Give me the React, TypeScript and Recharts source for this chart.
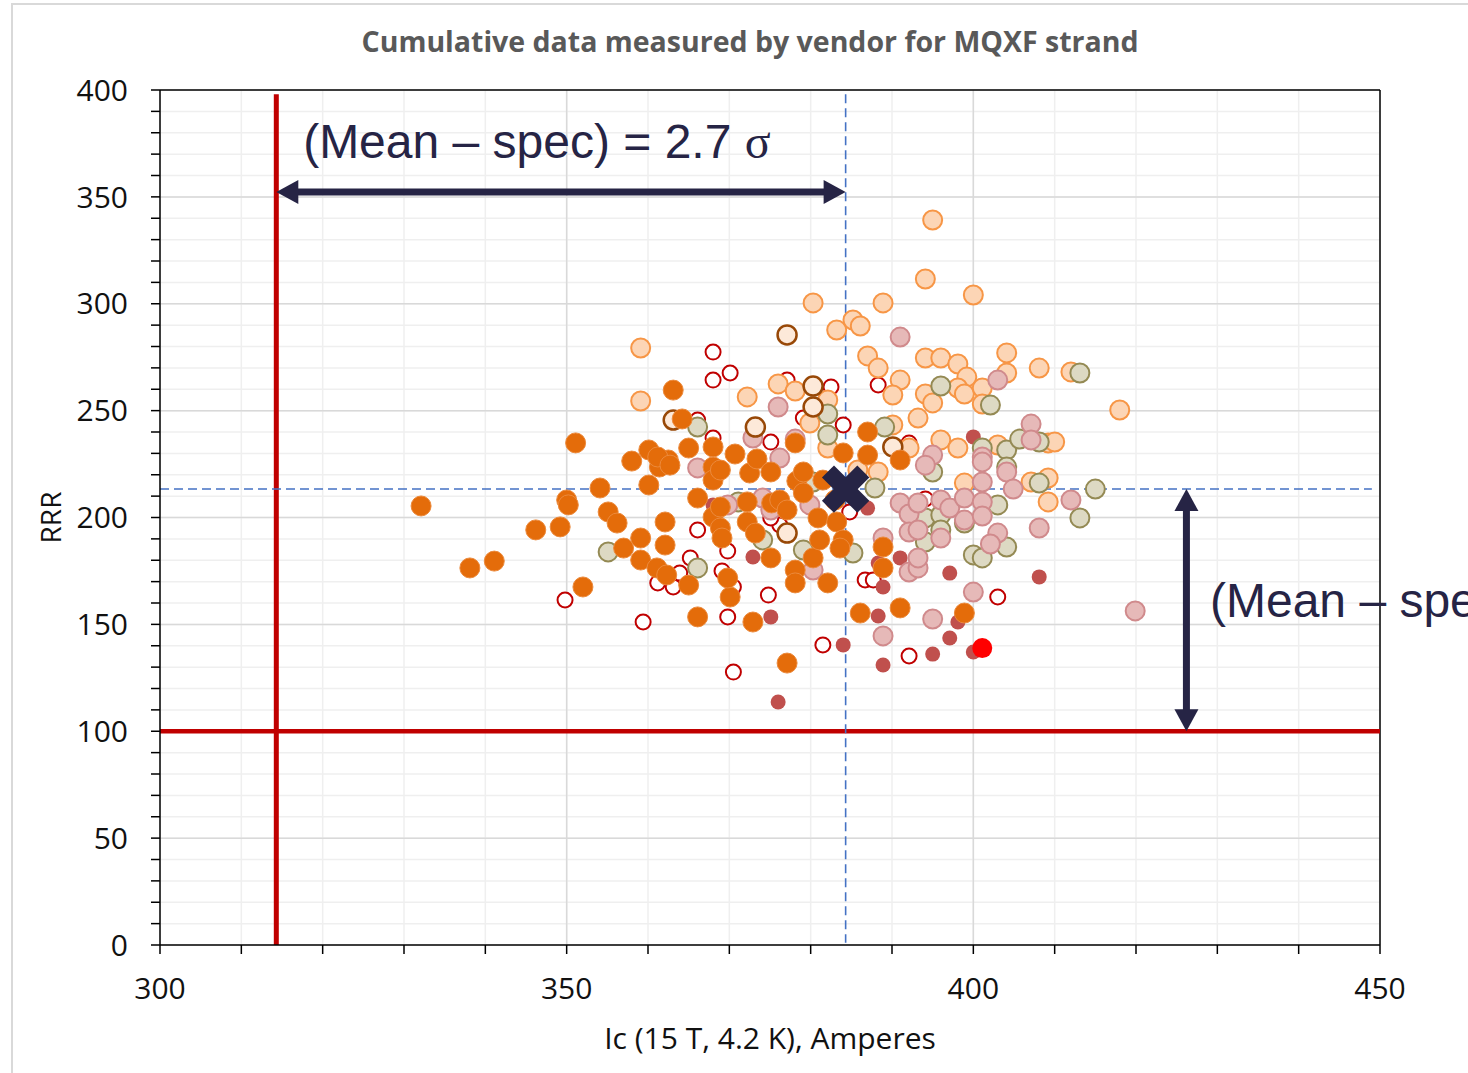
import React from 'react';
import {
  ScatterChart,
  Scatter,
  XAxis,
  YAxis,
  CartesianGrid,
  ReferenceLine,
  ReferenceDot,
  Label
} from 'recharts';

type Pt = { ic: number; rrr: number };

const xTicks = [300, 310, 320, 330, 340, 350, 360, 370, 380, 390, 400, 410, 420, 430, 440, 450];
const yTicks = [
  0, 10, 20, 30, 40, 50, 60, 70, 80, 90, 100, 110, 120, 130, 140, 150, 160, 170, 180, 190, 200,
  210, 220, 230, 240, 250, 260, 270, 280, 290, 300, 310, 320, 330, 340, 350, 360, 370, 380, 390, 400
];
const xMajor = [350, 400];
const yMajor = [50, 100, 150, 200, 250, 300, 350];

const specIc = 314.3;
const specRrr = 100;
const meanIc = 384.3;
const meanRrr = 213.3;

const filledOrange: Pt[] = [
  { ic: 332.1, rrr: 205.4 }, { ic: 338.1, rrr: 176.4 }, { ic: 341.1, rrr: 179.6 }, { ic: 346.2, rrr: 194.2 },
  { ic: 349.2, rrr: 195.6 }, { ic: 350.0, rrr: 208.2 }, { ic: 350.2, rrr: 205.9 }, { ic: 351.1, rrr: 234.9 },
  { ic: 352.0, rrr: 167.5 }, { ic: 354.1, rrr: 213.8 }, { ic: 355.1, rrr: 202.6 }, { ic: 356.2, rrr: 197.4 },
  { ic: 357.0, rrr: 185.7 }, { ic: 358.0, rrr: 226.4 }, { ic: 359.1, rrr: 190.4 }, { ic: 359.1, rrr: 180.1 },
  { ic: 360.1, rrr: 215.2 }, { ic: 360.1, rrr: 231.6 }, { ic: 361.1, rrr: 176.4 }, { ic: 361.4, rrr: 223.6 },
  { ic: 362.1, rrr: 197.9 }, { ic: 362.1, rrr: 187.1 }, { ic: 362.3, rrr: 173.1 }, { ic: 363.1, rrr: 259.6 },
  { ic: 362.5, rrr: 226.9 }, { ic: 361.2, rrr: 228.3 }, { ic: 362.7, rrr: 224.5 }, { ic: 364.2, rrr: 246.1 },
  { ic: 365.0, rrr: 168.4 }, { ic: 365.0, rrr: 232.5 }, { ic: 366.1, rrr: 153.5 }, { ic: 366.1, rrr: 209.1 },
  { ic: 368.0, rrr: 233.0 }, { ic: 368.0, rrr: 223.6 }, { ic: 368.0, rrr: 200.2 }, { ic: 368.0, rrr: 217.5 },
  { ic: 368.9, rrr: 222.2 }, { ic: 368.9, rrr: 195.1 }, { ic: 369.1, rrr: 190.4 }, { ic: 368.9, rrr: 204.9 },
  { ic: 370.1, rrr: 162.8 }, { ic: 369.8, rrr: 171.7 }, { ic: 370.7, rrr: 229.7 }, { ic: 372.2, rrr: 207.3 },
  { ic: 372.2, rrr: 197.9 }, { ic: 372.5, rrr: 220.8 }, { ic: 373.2, rrr: 192.7 }, { ic: 372.9, rrr: 151.1 },
  { ic: 373.4, rrr: 227.4 }, { ic: 375.1, rrr: 221.3 }, { ic: 375.1, rrr: 181.1 }, { ic: 375.2, rrr: 206.8 },
  { ic: 376.2, rrr: 208.2 }, { ic: 377.1, rrr: 203.5 }, { ic: 377.1, rrr: 131.9 }, { ic: 378.1, rrr: 175.4 },
  { ic: 378.1, rrr: 169.4 }, { ic: 378.1, rrr: 234.9 }, { ic: 378.3, rrr: 217.1 }, { ic: 379.1, rrr: 211.5 },
  { ic: 379.1, rrr: 221.3 }, { ic: 380.3, rrr: 181.1 }, { ic: 380.9, rrr: 199.8 }, { ic: 381.1, rrr: 189.5 },
  { ic: 381.5, rrr: 217.5 }, { ic: 382.1, rrr: 169.4 }, { ic: 383.2, rrr: 197.9 }, { ic: 384.0, rrr: 189.5 },
  { ic: 383.6, rrr: 185.7 }, { ic: 383.0, rrr: 208.2 }, { ic: 384.0, rrr: 230.2 }, { ic: 386.1, rrr: 155.3 },
  { ic: 387.0, rrr: 240.0 }, { ic: 387.0, rrr: 229.2 }, { ic: 388.9, rrr: 186.2 }, { ic: 388.9, rrr: 176.4 },
  { ic: 391.0, rrr: 157.7 }, { ic: 391.0, rrr: 226.9 }, { ic: 398.9, rrr: 155.3 }
];

const peach: Pt[] = [
  { ic: 359.1, rrr: 279.3 }, { ic: 359.1, rrr: 254.5 }, { ic: 372.2, rrr: 256.4 }, { ic: 376.0, rrr: 262.5 },
  { ic: 378.1, rrr: 259.2 }, { ic: 380.3, rrr: 300.4 }, { ic: 382.1, rrr: 255.0 }, { ic: 379.9, rrr: 244.2 },
  { ic: 382.1, rrr: 232.5 }, { ic: 383.2, rrr: 287.7 }, { ic: 385.2, rrr: 292.4 }, { ic: 386.1, rrr: 289.6 },
  { ic: 387.0, rrr: 275.6 }, { ic: 388.3, rrr: 269.9 }, { ic: 395.0, rrr: 339.2 }, { ic: 394.1, rrr: 311.6 },
  { ic: 400.0, rrr: 304.1 }, { ic: 388.9, rrr: 300.4 }, { ic: 391.0, rrr: 264.3 }, { ic: 390.1, rrr: 257.3 },
  { ic: 394.1, rrr: 274.6 }, { ic: 396.0, rrr: 274.6 }, { ic: 398.1, rrr: 271.8 }, { ic: 399.2, rrr: 265.7 },
  { ic: 394.1, rrr: 257.8 }, { ic: 395.0, rrr: 253.6 }, { ic: 398.1, rrr: 260.6 }, { ic: 398.9, rrr: 257.8 },
  { ic: 401.1, rrr: 260.6 }, { ic: 401.1, rrr: 253.1 }, { ic: 404.1, rrr: 277.0 }, { ic: 404.1, rrr: 267.6 },
  { ic: 408.1, rrr: 269.9 }, { ic: 412.0, rrr: 268.1 }, { ic: 418.0, rrr: 250.3 }, { ic: 393.2, rrr: 246.5 },
  { ic: 390.1, rrr: 243.3 }, { ic: 396.0, rrr: 236.3 }, { ic: 398.1, rrr: 232.5 }, { ic: 403.0, rrr: 233.9 },
  { ic: 409.2, rrr: 234.9 }, { ic: 410.0, rrr: 235.3 }, { ic: 392.1, rrr: 232.5 }, { ic: 388.3, rrr: 221.3 },
  { ic: 409.2, rrr: 207.3 }, { ic: 407.1, rrr: 216.6 }, { ic: 409.2, rrr: 218.5 }, { ic: 398.9, rrr: 216.1 },
  { ic: 385.8, rrr: 222.2 }
];

const pink: Pt[] = [
  { ic: 391.0, rrr: 284.4 }, { ic: 403.0, rrr: 264.3 }, { ic: 407.1, rrr: 243.7 }, { ic: 407.1, rrr: 236.3 },
  { ic: 401.1, rrr: 228.3 }, { ic: 395.0, rrr: 229.2 }, { ic: 394.1, rrr: 224.5 }, { ic: 401.1, rrr: 226.0 },
  { ic: 401.1, rrr: 216.6 }, { ic: 404.1, rrr: 221.3 }, { ic: 404.9, rrr: 213.3 }, { ic: 391.0, rrr: 206.8 },
  { ic: 392.1, rrr: 201.6 }, { ic: 393.2, rrr: 206.8 }, { ic: 396.0, rrr: 208.2 }, { ic: 397.1, rrr: 204.4 },
  { ic: 398.9, rrr: 209.1 }, { ic: 398.9, rrr: 198.8 }, { ic: 401.1, rrr: 207.3 }, { ic: 401.1, rrr: 200.7 },
  { ic: 392.1, rrr: 193.2 }, { ic: 393.2, rrr: 194.2 }, { ic: 396.0, rrr: 190.4 }, { ic: 403.0, rrr: 192.7 },
  { ic: 402.1, rrr: 187.6 }, { ic: 408.1, rrr: 195.1 }, { ic: 412.0, rrr: 208.2 }, { ic: 392.1, rrr: 174.5 },
  { ic: 393.2, rrr: 176.4 }, { ic: 393.2, rrr: 181.1 }, { ic: 400.0, rrr: 165.1 }, { ic: 395.0, rrr: 152.5 },
  { ic: 388.9, rrr: 144.6 }, { ic: 419.9, rrr: 156.3 }, { ic: 388.9, rrr: 190.4 }, { ic: 376.0, rrr: 251.7 },
  { ic: 372.9, rrr: 237.2 }, { ic: 378.1, rrr: 236.7 }, { ic: 366.1, rrr: 223.2 }, { ic: 376.2, rrr: 227.8 },
  { ic: 374.1, rrr: 209.1 }, { ic: 375.1, rrr: 203.5 }, { ic: 379.9, rrr: 205.9 }, { ic: 380.3, rrr: 175.4 },
  { ic: 369.8, rrr: 205.9 }
];

const olive: Pt[] = [
  { ic: 366.1, rrr: 242.3 }, { ic: 382.1, rrr: 248.4 }, { ic: 382.1, rrr: 238.6 }, { ic: 355.1, rrr: 183.9 },
  { ic: 366.1, rrr: 176.4 }, { ic: 371.1, rrr: 207.3 }, { ic: 374.1, rrr: 189.5 }, { ic: 379.1, rrr: 184.8 },
  { ic: 385.2, rrr: 183.4 }, { ic: 387.9, rrr: 213.8 }, { ic: 380.3, rrr: 216.6 }, { ic: 396.0, rrr: 261.5 },
  { ic: 402.1, rrr: 252.6 }, { ic: 413.1, rrr: 267.6 }, { ic: 389.1, rrr: 242.3 }, { ic: 401.1, rrr: 232.5 },
  { ic: 404.1, rrr: 231.6 }, { ic: 405.7, rrr: 236.7 }, { ic: 408.1, rrr: 235.3 }, { ic: 404.1, rrr: 223.6 },
  { ic: 408.1, rrr: 216.1 }, { ic: 415.0, rrr: 213.3 }, { ic: 413.1, rrr: 199.8 }, { ic: 395.0, rrr: 221.3 },
  { ic: 403.0, rrr: 205.9 }, { ic: 394.1, rrr: 199.8 }, { ic: 396.0, rrr: 201.2 }, { ic: 398.9, rrr: 197.4 },
  { ic: 394.1, rrr: 188.5 }, { ic: 396.0, rrr: 194.2 }, { ic: 400.0, rrr: 182.5 }, { ic: 401.1, rrr: 181.1 },
  { ic: 404.1, rrr: 186.2 }
];

const hollowRed: Pt[] = [
  { ic: 368.0, rrr: 277.4 }, { ic: 368.0, rrr: 264.3 }, { ic: 370.1, rrr: 267.6 }, { ic: 382.5, rrr: 261.1 },
  { ic: 384.0, rrr: 243.3 }, { ic: 388.3, rrr: 262.0 }, { ic: 379.1, rrr: 246.5 }, { ic: 375.1, rrr: 235.3 },
  { ic: 368.0, rrr: 237.2 }, { ic: 366.1, rrr: 245.6 }, { ic: 377.1, rrr: 264.3 }, { ic: 349.8, rrr: 161.4 },
  { ic: 359.4, rrr: 151.1 }, { ic: 366.1, rrr: 194.2 }, { ic: 365.2, rrr: 181.1 }, { ic: 369.1, rrr: 175.0 },
  { ic: 369.8, rrr: 184.3 }, { ic: 370.5, rrr: 167.5 }, { ic: 369.8, rrr: 153.5 }, { ic: 370.5, rrr: 127.7 },
  { ic: 361.2, rrr: 169.4 }, { ic: 363.1, rrr: 167.5 }, { ic: 363.9, rrr: 174.0 }, { ic: 374.8, rrr: 163.7 },
  { ic: 381.5, rrr: 140.4 }, { ic: 384.8, rrr: 202.6 }, { ic: 386.7, rrr: 170.8 }, { ic: 387.7, rrr: 170.8 },
  { ic: 376.2, rrr: 196.5 }, { ic: 375.1, rrr: 199.8 }, { ic: 403.0, rrr: 162.8 }, { ic: 392.1, rrr: 135.2 },
  { ic: 394.1, rrr: 208.7 }, { ic: 392.1, rrr: 234.9 }
];

const darkRed: Pt[] = [
  { ic: 368.0, rrr: 205.9 }, { ic: 372.9, rrr: 181.5 }, { ic: 375.1, rrr: 153.5 }, { ic: 384.0, rrr: 140.4 },
  { ic: 376.0, rrr: 113.7 }, { ic: 387.0, rrr: 204.4 }, { ic: 391.0, rrr: 181.1 }, { ic: 388.3, rrr: 178.7 },
  { ic: 388.9, rrr: 167.5 }, { ic: 397.1, rrr: 174.0 }, { ic: 408.1, rrr: 172.2 }, { ic: 388.3, rrr: 153.9 },
  { ic: 398.1, rrr: 151.1 }, { ic: 397.1, rrr: 143.6 }, { ic: 395.0, rrr: 136.1 }, { ic: 388.9, rrr: 131.0 },
  { ic: 400.0, rrr: 137.1 }, { ic: 400.0, rrr: 237.7 }
];

const cream: Pt[] = [
  { ic: 377.1, rrr: 285.4 }, { ic: 380.3, rrr: 261.5 }, { ic: 380.3, rrr: 251.7 }, { ic: 363.1, rrr: 245.6 },
  { ic: 373.2, rrr: 242.3 }, { ic: 377.1, rrr: 192.7 }, { ic: 390.1, rrr: 233.0 }
];

const brightRed: Pt[] = [{ ic: 401.1, rrr: 138.9 }];
const meanPoint: Pt[] = [{ ic: meanIc, rrr: meanRrr }];

const NAVY = '#262445';
const FONT = '"Open Sans", "Noto Sans", sans-serif';
const ARIAL = '"Liberation Sans", Arial, sans-serif';

const dot = (r: number, fill: string, stroke?: string, sw = 0) => (p: any) => (
  <circle cx={p.cx} cy={p.cy} r={r} fill={fill} stroke={stroke || 'none'} strokeWidth={sw} />
);

const crossShape = (p: any) => (
  <g transform={`translate(${p.cx},${p.cy}) rotate(45)`}>
    <rect x={-25} y={-8.5} width={50} height={17} fill={NAVY} />
    <rect x={-8.5} y={-25} width={17} height={50} fill={NAVY} />
  </g>
);

const arrowShape = (props: any) => {
  const { x1, y1, x2, y2 } = props;
  const dx = x2 - x1;
  const dy = y2 - y1;
  const len = Math.hypot(dx, dy) || 1;
  const ux = dx / len;
  const uy = dy / len;
  const nx = -uy;
  const ny = ux;
  const head = 22;
  const half = 12;
  const tri = (tx: number, ty: number, dir: number) => {
    const bx = tx - ux * head * dir;
    const by = ty - uy * head * dir;
    return `${tx},${ty} ${bx + nx * half},${by + ny * half} ${bx - nx * half},${by - ny * half}`;
  };
  return (
    <g>
      <line
        x1={x1 + ux * head * 0.8}
        y1={y1 + uy * head * 0.8}
        x2={x2 - ux * head * 0.8}
        y2={y2 - uy * head * 0.8}
        stroke={NAVY}
        strokeWidth={7}
      />
      <polygon points={tri(x1, y1, -1)} fill={NAVY} />
      <polygon points={tri(x2, y2, 1)} fill={NAVY} />
    </g>
  );
};

const noteText = (text: string, sigma?: string) => (p: any) => (
  <text x={p.cx} y={p.cy} fill={NAVY} fontSize={48} fontFamily={ARIAL}>
    {text}
    {sigma ? <tspan fontFamily='"Liberation Serif", "DejaVu Serif", serif'>{sigma}</tspan> : null}
  </text>
);

const tickFmt = (v: number) => (v % 50 === 0 ? String(v) : '');

const App: React.FC = () => {
  return (
    <div
      style={{
        position: 'absolute',
        left: 0,
        top: 0,
        width: 1468,
        height: 1073,
        overflow: 'hidden',
        background: '#fff'
      }}
    >
      <div
        style={{
          position: 'absolute',
          left: 11,
          top: 3,
          width: 1600,
          height: 1200,
          borderLeft: '2px solid #d9d9d9',
          borderTop: '2px solid #d9d9d9'
        }}
      />
      <div
        style={{
          position: 'absolute',
          left: 250,
          top: 22,
          width: 1000,
          textAlign: 'center',
          fontFamily: FONT,
          fontWeight: 700,
          fontSize: 28.5,
          lineHeight: '38px',
          color: '#595959'
        }}
      >
        Cumulative data measured by vendor for MQXF strand
      </div>
      <div style={{ position: 'absolute', left: 0, top: 0 }}>
        <ScatterChart
          width={1600}
          height={1073}
          margin={{ top: 90, right: 220, left: 20, bottom: 18 }}
        >
          <CartesianGrid stroke="#efefef" strokeWidth={1.5} />
          <CartesianGrid
            stroke="#d9d9d9"
            strokeWidth={1.5}
            verticalValues={xMajor}
            horizontalValues={yMajor}
          />
          <XAxis
            type="number"
            dataKey="ic"
            domain={[300, 450]}
            ticks={xTicks}
            tickFormatter={tickFmt}
            interval={0}
            allowDataOverflow
            height={110}
            tickSize={9}
            tickMargin={24}
            stroke="#000"
            strokeWidth={1.5}
            tick={{ fill: '#111', fontSize: 30, fontFamily: FONT }}
          >
            <Label
              content={({ viewBox }: any) => (
                <text
                  x={viewBox.x + viewBox.width / 2}
                  y={viewBox.y + 104}
                  textAnchor="middle"
                  fill="#111"
                  fontSize={30}
                  fontFamily={FONT}
                >
                  Ic (15 T, 4.2 K), Amperes
                </text>
              )}
            />
          </XAxis>
          <YAxis
            type="number"
            dataKey="rrr"
            domain={[0, 400]}
            ticks={yTicks}
            tickFormatter={tickFmt}
            interval={0}
            allowDataOverflow
            width={140}
            tickSize={9}
            tickMargin={23}
            stroke="#000"
            strokeWidth={1.5}
            tick={{ fill: '#111', fontSize: 30, fontFamily: FONT }}
          >
            <Label
              content={({ viewBox }: any) => {
                const cx = viewBox.x + 30;
                const cy = viewBox.y + viewBox.height / 2;
                return (
                  <text
                    x={cx}
                    y={cy}
                    transform={`rotate(-90 ${cx} ${cy})`}
                    textAnchor="middle"
                    dominantBaseline="central"
                    fill="#111"
                    fontSize={28}
                    fontFamily={FONT}
                  >
                    RRR
                  </text>
                );
              }}
            />
          </YAxis>

          <ReferenceLine y={400} stroke="#000" strokeWidth={1.5} />
          <ReferenceLine x={450} stroke="#000" strokeWidth={1.5} />
          <ReferenceLine
            segment={[{ x: specIc, y: 398 }, { x: specIc, y: 0 }]}
            stroke="#C00000"
            strokeWidth={5}
          />
          <ReferenceLine y={specRrr} stroke="#C00000" strokeWidth={4.5} />

          <Scatter data={hollowRed} isAnimationActive={false} shape={dot(7.5, '#ffffff', '#C00000', 2)} />
          <Scatter data={darkRed} isAnimationActive={false} shape={dot(7.5, '#C0504D')} />
          <Scatter data={peach} isAnimationActive={false} shape={dot(9.5, '#FCD5B5', '#F79646', 2)} />
          <Scatter data={olive} isAnimationActive={false} shape={dot(9.5, '#DDD9C3', '#948A54', 2)} />
          <Scatter data={pink} isAnimationActive={false} shape={dot(9.5, '#E6B9B8', '#D08A8C', 2)} />
          <Scatter data={cream} isAnimationActive={false} shape={dot(9.5, '#FDE9D9', '#984807', 2.5)} />
          <Scatter data={filledOrange} isAnimationActive={false} shape={dot(10, '#E46C0A', '#EC8A3C', 1)} />
          <Scatter data={brightRed} isAnimationActive={false} shape={dot(10, '#FF0000')} />

          <ReferenceLine
            segment={[{ x: meanIc, y: 398 }, { x: meanIc, y: 1 }]}
            stroke="#4472C4"
            strokeWidth={1.6}
            strokeDasharray="9 5"
          />
          <ReferenceLine
            segment={[{ x: 300, y: meanRrr }, { x: 449, y: meanRrr }]}
            stroke="#4472C4"
            strokeWidth={1.6}
            strokeDasharray="9 5"
          />

          <Scatter data={meanPoint} isAnimationActive={false} shape={crossShape} />

          <ReferenceLine
            segment={[{ x: specIc, y: 352.3 }, { x: meanIc, y: 352.3 }]}
            shape={arrowShape}
          />
          <ReferenceLine
            segment={[{ x: 426.2, y: meanRrr }, { x: 426.2, y: specRrr }]}
            shape={arrowShape}
          />
          <ReferenceDot
            x={317.6}
            y={368.2}
            r={0}
            ifOverflow="visible"
            shape={noteText('(Mean \u2013 spec) = 2.7 ', '\u03c3')}
          />
          <ReferenceDot
            x={429.1}
            y={153.5}
            r={0}
            ifOverflow="visible"
            shape={noteText('(Mean \u2013 spec)')}
          />
        </ScatterChart>
      </div>
    </div>
  );
};

export default App;
